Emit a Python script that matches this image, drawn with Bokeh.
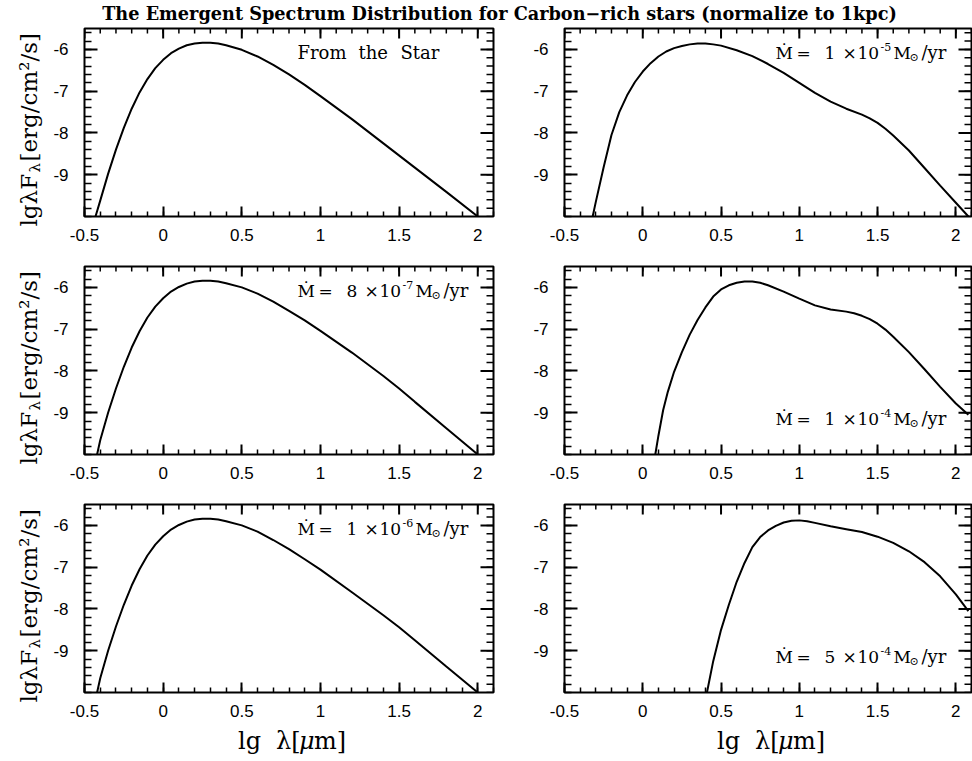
from math import pi

from bokeh.embed import file_html
from bokeh.layouts import column, row
from bokeh.models import Arrow, ColumnDataSource, FixedTicker, Label, LinearAxis, Range1d
from bokeh.plotting import figure
from bokeh.resources import INLINE

# ---------------------------------------------------------------------------
# Data: lg(lambda / um) against lg(lambda F_lambda / erg cm^-2 s^-1)
# ---------------------------------------------------------------------------
TITLE = "The Emergent Spectrum Distribution for Carbon\u2212rich stars (normalize to 1kpc)"

star_x = [-0.43, -0.40, -0.35, -0.30, -0.25, -0.20, -0.15, -0.10, -0.05, 0.00,
          0.05, 0.10, 0.15, 0.20, 0.25, 0.30, 0.35, 0.40, 0.50, 0.60,
          0.70, 0.80, 0.90, 1.00, 1.20, 1.40, 1.60, 1.80, 2.00]
star_y = [-10.0, -9.62, -8.98, -8.40, -7.88, -7.42, -7.03, -6.71, -6.45, -6.25,
          -6.09, -5.98, -5.90, -5.86, -5.84, -5.84, -5.86, -5.90, -6.01, -6.17,
          -6.37, -6.60, -6.85, -7.12, -7.67, -8.25, -8.83, -9.41, -10.0]

m1e5_x = [-0.32, -0.30, -0.25, -0.20, -0.15, -0.10, -0.05, 0.00, 0.05, 0.10,
          0.15, 0.20, 0.25, 0.30, 0.35, 0.40, 0.45, 0.50, 0.60, 0.70,
          0.80, 0.90, 1.00, 1.10, 1.20, 1.30, 1.40, 1.45, 1.50, 1.55,
          1.60, 1.70, 1.80, 1.90, 2.00, 2.08]
m1e5_y = [-10.0, -9.65, -8.82, -8.05, -7.50, -7.10, -6.78, -6.53, -6.33, -6.17,
          -6.05, -5.97, -5.92, -5.88, -5.86, -5.86, -5.88, -5.91, -6.02, -6.16,
          -6.35, -6.56, -6.80, -7.04, -7.25, -7.42, -7.56, -7.65, -7.76, -7.90,
          -8.06, -8.42, -8.84, -9.26, -9.67, -10.0]

m8e7_x = [-0.42, -0.40, -0.35, -0.30, -0.25, -0.20, -0.15, -0.10, -0.05, 0.00,
          0.05, 0.10, 0.15, 0.20, 0.25, 0.30, 0.35, 0.40, 0.50, 0.60,
          0.70, 0.80, 0.90, 1.00, 1.20, 1.40, 1.50, 1.60, 1.80, 2.00]
m8e7_y = [-10.0, -9.66, -9.00, -8.42, -7.90, -7.44, -7.05, -6.72, -6.46, -6.26,
          -6.10, -5.99, -5.91, -5.86, -5.84, -5.84, -5.86, -5.90, -6.00, -6.15,
          -6.34, -6.56, -6.79, -7.04, -7.56, -8.12, -8.42, -8.74, -9.37, -10.0]

m1e4_x = [0.08, 0.10, 0.13, 0.16, 0.20, 0.25, 0.30, 0.35, 0.40, 0.45,
          0.50, 0.55, 0.60, 0.65, 0.70, 0.75, 0.80, 0.90, 1.00, 1.10,
          1.20, 1.30, 1.35, 1.40, 1.45, 1.50, 1.55, 1.60, 1.70, 1.80,
          1.90, 2.00, 2.08]
m1e4_y = [-10.0, -9.55, -8.94, -8.50, -8.02, -7.55, -7.13, -6.78, -6.48, -6.22,
          -6.05, -5.95, -5.89, -5.86, -5.86, -5.89, -5.95, -6.10, -6.27, -6.43,
          -6.53, -6.58, -6.62, -6.68, -6.76, -6.87, -7.01, -7.18, -7.55, -7.96,
          -8.38, -8.78, -9.05]

m1e6_x = [-0.42, -0.40, -0.35, -0.30, -0.25, -0.20, -0.15, -0.10, -0.05, 0.00,
          0.05, 0.10, 0.15, 0.20, 0.25, 0.30, 0.35, 0.40, 0.50, 0.60,
          0.70, 0.80, 0.90, 1.00, 1.20, 1.40, 1.50, 1.60, 1.80, 2.00]
m1e6_y = [-10.0, -9.66, -9.00, -8.42, -7.90, -7.44, -7.05, -6.72, -6.46, -6.26,
          -6.10, -5.99, -5.91, -5.86, -5.84, -5.84, -5.86, -5.90, -6.00, -6.15,
          -6.35, -6.57, -6.81, -7.06, -7.60, -8.15, -8.44, -8.75, -9.38, -10.0]

m5e4_x = [0.41, 0.45, 0.50, 0.55, 0.60, 0.65, 0.70, 0.75, 0.80, 0.85,
          0.90, 0.95, 1.00, 1.05, 1.10, 1.20, 1.30, 1.40, 1.50, 1.60,
          1.70, 1.80, 1.90, 2.00, 2.08]
m5e4_y = [-10.0, -9.25, -8.50, -7.90, -7.35, -6.90, -6.52, -6.28, -6.12, -6.01,
          -5.93, -5.89, -5.88, -5.90, -5.94, -6.02, -6.09, -6.16, -6.27, -6.42,
          -6.62, -6.88, -7.22, -7.65, -8.05]

# panel captions: (mantissa, exponent) of the mass-loss rate, None for the bare star
captions = [None, ("1", "-5"), ("8", "-7"), ("1", "-4"), ("1", "-6"), ("5", "-4")]
caption_at_top = [True, True, True, False, True, False]

# axes
X_RANGE = (-0.5, 2.1)
Y_RANGE = (-10.0, -5.5)
x_major = [-0.5, 0, 0.5, 1, 1.5, 2]
x_labels = ["-0.5", "0", "0.5", "1", "1.5", "2"]
x_minor = [-0.5, -0.4, -0.3, -0.2, -0.1, 0, 0.1, 0.2, 0.3, 0.4, 0.5, 0.6, 0.7, 0.8,
           0.9, 1.0, 1.1, 1.2, 1.3, 1.4, 1.5, 1.6, 1.7, 1.8, 1.9, 2.0, 2.1]
y_major = [-9, -8, -7, -6]
y_labels = ["-9", "-8", "-7", "-6"]
y_minor = [-10, -9.8, -9.6, -9.4, -9.2, -9, -8.8, -8.6, -8.4, -8.2, -8, -7.8, -7.6,
           -7.4, -7.2, -7, -6.8, -6.6, -6.4, -6.2, -6, -5.8, -5.6]

SERIF = "DejaVu Serif"
SANS = "Liberation Sans"

series = [(star_x, star_y), (m1e5_x, m1e5_y), (m8e7_x, m8e7_y),
          (m1e4_x, m1e4_y), (m1e6_x, m1e6_y), (m5e4_x, m5e4_y)]

# page geometry (pixels)
YLAB_W = 44
HEAD_H = 26
XSTRIP_H = 35
PAGE_H = 761
FRAME_H = 188


def make_axis(kind):
    if kind == "x":
        ticker = FixedTicker(ticks=x_major, minor_ticks=x_minor)
        overrides = dict(zip(x_major, x_labels))
        tin, mtin, standoff = 10, 5, 12
    else:
        ticker = FixedTicker(ticks=y_major, minor_ticks=y_minor)
        overrides = dict(zip(y_major, y_labels))
        tin, mtin, standoff = 13, 7, 16
    return LinearAxis(
        ticker=ticker,
        axis_line_color=None,
        major_tick_in=tin, major_tick_out=0,
        minor_tick_in=mtin, minor_tick_out=0,
        major_tick_line_width=2, minor_tick_line_width=1.5,
        major_tick_line_color="black", minor_tick_line_color="black",
        major_label_overrides=overrides,
        major_label_text_font=SANS,
        major_label_text_font_size="17px",
        major_label_text_color="black",
        major_label_standoff=standoff,
    )


def mirror_ticks(p, frame_w):
    """Inward ticks along the top and right edges of the frame."""
    ypx = (Y_RANGE[1] - Y_RANGE[0]) / FRAME_H
    xpx = (X_RANGE[1] - X_RANGE[0]) / frame_w
    for ticks, length, width in ((x_major, 10, 2), (x_minor, 5, 1.5)):
        src = ColumnDataSource(dict(
            x0=list(ticks), x1=list(ticks),
            y0=[Y_RANGE[1]] * len(ticks),
            y1=[Y_RANGE[1] - length * ypx] * len(ticks)))
        p.add_layout(Arrow(end=None, source=src, x_start="x0", y_start="y0",
                           x_end="x1", y_end="y1", line_color="black",
                           line_width=width))
    for ticks, length, width in ((y_major, 13, 2), (y_minor, 7, 1.5)):
        src = ColumnDataSource(dict(
            y0=list(ticks), y1=list(ticks),
            x0=[X_RANGE[1]] * len(ticks),
            x1=[X_RANGE[1] - length * xpx] * len(ticks)))
        p.add_layout(Arrow(end=None, source=src, x_start="x0", y_start="y0",
                           x_end="x1", y_end="y1", line_color="black",
                           line_width=width))


def text_label(x, y, text, size, align="left", style="normal", angle=0.0,
               xo=0, yo=0):
    return Label(x=x, y=y, x_offset=xo, y_offset=yo, text=text,
                 text_font=SERIF, text_font_size=f"{size}px",
                 text_font_style=style, text_color="black",
                 text_align=align, text_baseline="middle", angle=angle)


def make_panel(idx):
    r, c = divmod(idx, 2)
    xs, ys = series[idx]
    left = 40 if c == 0 else 61
    right = 10 if c == 0 else 1
    fw = 409 if c == 0 else 407
    top = 2 if r == 0 else 14
    bottom = 34 if r == 2 else 36
    p = figure(frame_width=fw, frame_height=FRAME_H,
               x_range=Range1d(*X_RANGE), y_range=Range1d(*Y_RANGE),
               x_axis_location=None, y_axis_location=None,
               toolbar_location=None, output_backend="svg",
               min_border_left=left, min_border_right=right,
               min_border_top=top, min_border_bottom=bottom)
    p.grid.visible = False
    p.outline_line_color = "black"
    p.outline_line_width = 2
    p.background_fill_color = "white"
    p.border_fill_color = "white"

    p.add_layout(make_axis("x"), "below")
    p.add_layout(make_axis("y"), "left")
    mirror_ticks(p, fw)

    p.line(xs, ys, line_color="black", line_width=2)

    # caption inside the frame
    cap = captions[idx]
    if caption_at_top[idx]:
        cy, cyo = Y_RANGE[1], -24
    else:
        cy, cyo = Y_RANGE[0], 36
    xr = X_RANGE[1]
    if cap is None:
        for text, off in (("From", -196), ("the", -135), ("Star", -93)):
            p.add_layout(text_label(xr, cy, text, 18, xo=off, yo=cyo))
    else:
        mant, expo = cap
        pieces = [("\u1E40", 0, 17, 0),
                  ("=", 21, 17, 0),
                  (mant, 49, 17, 0),
                  ("\u00D7", 67, 17, 0),
                  ("10", 82, 17, 0),
                  (expo, 105, 11, 6),
                  ("M", 118, 17, 0),
                  ("\u2299", 134, 11, -5),
                  ("/yr", 146, 18, 0)]
        for text, off, size, shift in pieces:
            p.add_layout(text_label(xr, cy, text, size, xo=-196 + off,
                                    yo=cyo + shift))
    return p


# title strip
head = figure(width=972 - YLAB_W, height=HEAD_H,
              x_range=Range1d(0, 972 - YLAB_W), y_range=Range1d(0, HEAD_H),
              x_axis_location=None, y_axis_location=None,
              toolbar_location=None, output_backend="svg", min_border=0)
head.outline_line_color = None
head.grid.visible = False
head.add_layout(text_label(499 - YLAB_W, HEAD_H - 13, TITLE, 17.7,
                           align="center", style="bold"))

# y-axis titles, one per row, in a strip left of the panels
ylab = figure(width=YLAB_W, height=PAGE_H,
              x_range=Range1d(0, YLAB_W), y_range=Range1d(0, PAGE_H),
              x_axis_location=None, y_axis_location=None,
              toolbar_location=None, output_backend="svg", min_border=0)
ylab.outline_line_color = None
ylab.grid.visible = False
for frame_mid in (124, 362, 600):
    base = PAGE_H - frame_mid - 102      # lower end of the rotated title
    for text, along, size, shift in [("lg\u03BBF", 0, 23, 0),
                                     ("\u03BB", 54, 15, 6),
                                     ("[erg/cm\u00B2/s]", 65, 23, 0)]:
        ylab.add_layout(text_label(28 + shift, base + along, text, size,
                                   angle=pi / 2))

# x-axis titles below the bottom row
strip_w = 972 - YLAB_W
xstrip = figure(width=strip_w, height=XSTRIP_H,
                x_range=Range1d(0, strip_w), y_range=Range1d(0, XSTRIP_H),
                x_axis_location=None, y_axis_location=None,
                toolbar_location=None, output_backend="svg", min_border=0)
xstrip.outline_line_color = None
xstrip.grid.visible = False
for centre in (288.5 - YLAB_W, 767.5 - YLAB_W):
    for text, off, style in [("lg", -51, "normal"), ("\u03BB[", -13, "normal"),
                             ("\u03BC", 10, "italic"), ("m]", 25, "normal")]:
        xstrip.add_layout(text_label(centre + off, XSTRIP_H - 14, text, 24,
                                     style=style))

panels = [make_panel(i) for i in range(6)]
layout = row(ylab,
             column(head,
                    row(panels[0], panels[1]),
                    row(panels[2], panels[3]),
                    row(panels[4], panels[5]),
                    xstrip))

open("out.html", "w").write(file_html(layout, INLINE))
